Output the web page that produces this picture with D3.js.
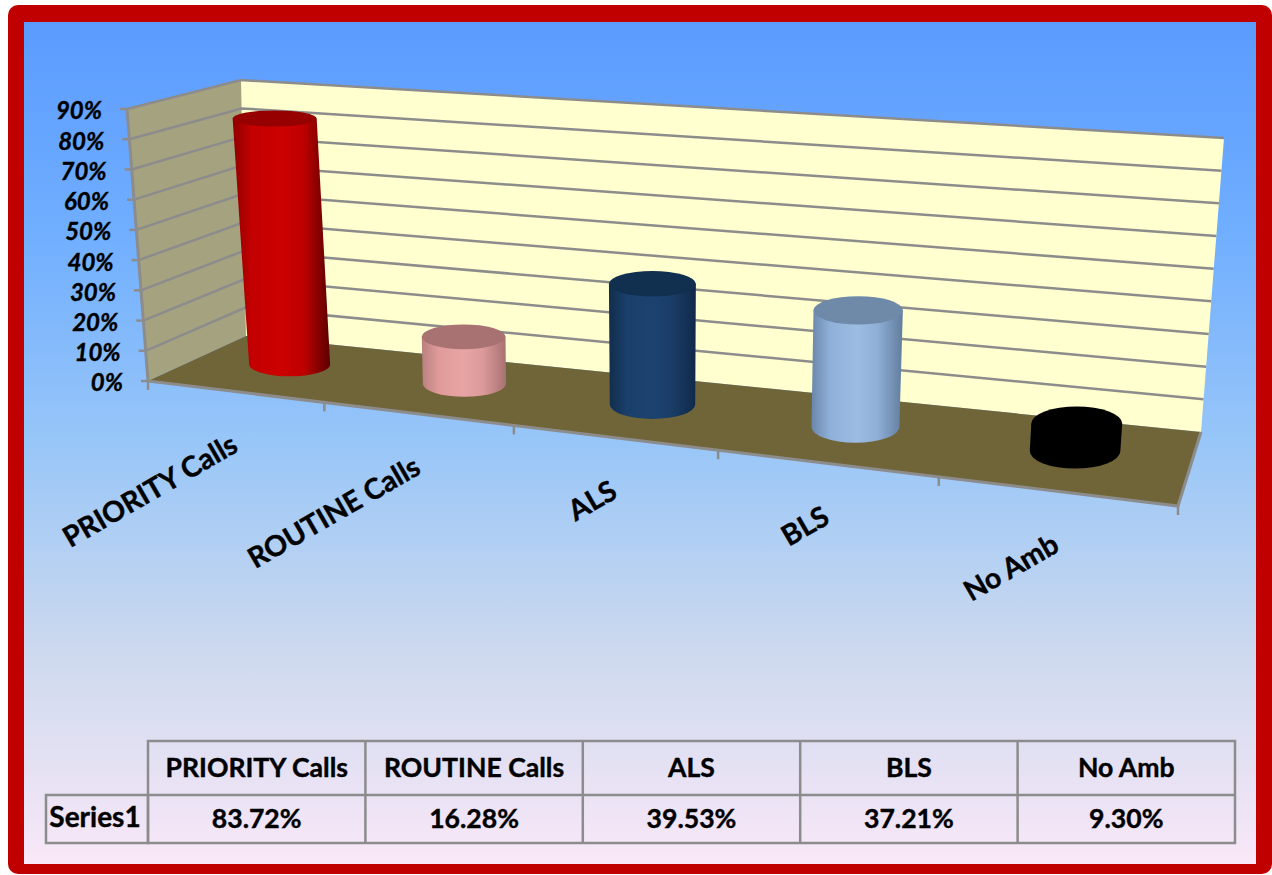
<!DOCTYPE html>
<html>
<head>
<meta charset="utf-8">
<script src="https://cdn.jsdelivr.net/npm/d3@7"></script>
<style>
body { margin: 0; background: #fff; }
text { font-family: Lato, "Open Sans", sans-serif; font-weight: bold; fill: #000; stroke: #000; stroke-width: 0.4; }
</style>
</head>
<body>
<svg width="1272" height="875"></svg>
<script>
const categories = ['PRIORITY Calls', 'ROUTINE Calls', 'ALS', 'BLS', 'No Amb'];
const values = [0.8372, 0.1628, 0.3953, 0.3721, 0.093];
const valueLabels = ['83.72%', '16.28%', '39.53%', '37.21%', '9.30%'];
const yTicks = [0, 0.1, 0.2, 0.3, 0.4, 0.5, 0.6, 0.7, 0.8, 0.9];
const seriesName = 'Series1';
const barColors = [
    {stops: ['#8f0000', '#c40000', '#cc0000', '#c00000', '#5c0000'], top: '#960000'},
    {stops: ['#b98080', '#e09a9a', '#e8a4a4', '#dc9a9a', '#a87272'], top: '#a97272'},
    {stops: ['#122d4d', '#1a3f69', '#1c4270', '#1a3d66', '#10294a'], top: '#112f4f'},
    {stops: ['#6a87aa', '#8fb0d8', '#9cbce2', '#8fafd6', '#617d9e'], top: '#6f8aa9'},
    {stops: ['#000', '#000', '#000', '#000', '#000'], top: '#000'}
];

const svg = d3.select('svg');
const defs = svg.append('defs');

// chart box corners, the 3d frame of the plot
const frontBottom = [[148, 381], [1178, 506]];
const backBottom = [[246, 336], [1201, 432]];
const frontTop = [[127, 109], [1196, 194]];
const backTop = [[241, 80], [1224, 138]];

const xScale = d3.scaleBand().domain(categories).range([0, 1]);
const yScale = d3.scaleLinear().domain([0, 0.9]).range([0, 1]);

const lerp = (a, b, t) => [a[0] + (b[0] - a[0]) * t, a[1] + (b[1] - a[1]) * t];
const persp = u => u / (u + (1 - u) * 1.21);

// u along categories, v front to back, h up the value axis (all 0..1)
const project = (u, v, h) => {
    const p = persp(u);
    const bottom = lerp(lerp(frontBottom[0], frontBottom[1], p), lerp(backBottom[0], backBottom[1], p), v);
    const top = lerp(lerp(frontTop[0], frontTop[1], p), lerp(backTop[0], backTop[1], p), v);
    return lerp(bottom, top, h);
};

const line = d3.line();

// background
const bg = defs.append('linearGradient').attr('id', 'bg')
    .attr('x1', 0).attr('y1', 0).attr('x2', 0).attr('y2', 1);
[[0, '#5b9bff'], [0.25, '#70aeff'], [0.5, '#98c6f8'], [0.75, '#cdd9ee'], [1, '#f9e8f8']].forEach(s => {
    bg.append('stop').attr('offset', s[0]).attr('stop-color', s[1]);
});
svg.append('rect').attr('x', 8).attr('y', 5).attr('width', 1264).attr('height', 869)
    .attr('rx', 10).attr('fill', '#c00000');
svg.append('rect').attr('x', 24).attr('y', 22).attr('width', 1232).attr('height', 842)
    .attr('fill', 'url(#bg)');

// walls and floor
const poly = (pts, fill) => svg.append('path').attr('d', line(pts) + 'Z').attr('fill', fill);
poly([project(0, 0, 0), project(0, 1, 0), project(0, 1, 1), project(0, 0, 1)], '#a5a27f');
poly([project(0, 1, 0), project(1, 1, 0), project(1, 1, 1), project(0, 1, 1)], '#ffffcf');
poly([project(0, 0, 0), project(1, 0, 0), project(1, 1, 0), project(0, 1, 0)], '#706539');

const gray = '#8c8c8c';
const stroke = (pts, w) => svg.append('path').attr('d', line(pts))
    .attr('fill', 'none').attr('stroke', gray).attr('stroke-width', w || 2.5);

// gridlines, value ticks and labels
yTicks.forEach(t => {
    const h = yScale(t);
    if (t > 0) {
        stroke([project(0, 0, h), project(0, 1, h), project(1, 1, h)]);
    }
    const a = project(0, 0, h);
    stroke([a, [a[0] - 7, a[1]]]);
    svg.append('text')
        .attr('x', a[0] - 25).attr('y', a[1] + 2)
        .attr('dy', '0.35em')
        .attr('text-anchor', 'end')
        .attr('font-size', 24)
        .attr('font-style', 'italic')
        .text(d3.format('.0%')(t));
});

// frame edges
stroke([project(0, 0, 0), project(0, 0, 1)], 3);
stroke([project(0, 0, 0), project(1, 0, 0), project(1, 1, 0)], 3);

// category ticks
d3.range(categories.length + 1).forEach(i => {
    const a = project(i / categories.length, 0, 0);
    stroke([a, [a[0], a[1] + 9]]);
});

// cylinders
categories.forEach((c, i) => {
    const uc = xScale(c) + xScale.bandwidth() / 2;
    const h = yScale(values[i]);
    const p = persp(uc);
    // x is taken further back than y, the picture's cylinders sit a little off the box
    const base = [project(uc, 0.6, 0)[0], project(uc, 0.57, 0)[1]];
    const head = [project(uc, 0.6, h)[0] - 8 * h * h, project(uc, 0.52, h)[1]];
    const ryAt = hh => Math.abs(project(uc, 0.85, hh)[1] - project(uc, 0.35, hh)[1]) / 2;
    const rxBase = 40 + 6 * p;
    const rxHead = rxBase * (1 + 0.04 * h);
    const ryBase = ryAt(0);
    const ryHead = ryAt(h);

    const grad = defs.append('linearGradient').attr('id', 'bar' + i);
    [0, 0.2, 0.5, 0.72, 1].forEach((o, j) => {
        grad.append('stop').attr('offset', o).attr('stop-color', barColors[i].stops[j]);
    });

    svg.append('path')
        .attr('d', `M${head[0] - rxHead},${head[1]}` +
            `L${base[0] - rxBase},${base[1]}` +
            `A${rxBase},${ryBase} 0 0 0 ${base[0] + rxBase},${base[1]}` +
            `L${head[0] + rxHead},${head[1]}Z`)
        .attr('fill', `url(#bar${i})`);
    svg.append('ellipse')
        .attr('cx', head[0]).attr('cy', head[1])
        .attr('rx', rxHead).attr('ry', ryHead)
        .attr('fill', barColors[i].top);

    // category label
    const f = project(uc, 0, 0);
    svg.append('text')
        .attr('transform', `translate(${f[0] + 5},${f[1] + 59}) rotate(-30)`)
        .attr('text-anchor', 'end')
        .attr('font-size', 28.5)
        .text(c);
});

// data table
const tableX = d3.scaleBand().domain(categories).range([148, 1235]);
const rowY = [741, 795, 843];
const tableG = svg.append('g').attr('fill', 'none').attr('stroke', gray).attr('stroke-width', 2.5);
tableG.append('rect').attr('x', 148).attr('y', rowY[0]).attr('width', 1087).attr('height', rowY[2] - rowY[0]);
tableG.append('rect').attr('x', 46).attr('y', rowY[1]).attr('width', 102).attr('height', rowY[2] - rowY[1]);
tableG.append('line').attr('x1', 148).attr('x2', 1235).attr('y1', rowY[1]).attr('y2', rowY[1]);
categories.slice(1).forEach(c => {
    tableG.append('line').attr('x1', tableX(c)).attr('x2', tableX(c)).attr('y1', rowY[0]).attr('y2', rowY[2]);
});
categories.forEach((c, i) => {
    const cx = tableX(c) + tableX.bandwidth() / 2;
    svg.append('text').attr('x', cx).attr('y', 777).attr('text-anchor', 'middle').attr('font-size', 26.6).text(c);
    svg.append('text').attr('x', cx).attr('y', 828).attr('text-anchor', 'middle').attr('font-size', 26.6).text(valueLabels[i]);
});
svg.append('text').attr('x', 95).attr('y', 827).attr('text-anchor', 'middle').attr('font-size', 28).text(seriesName);
</script>
</body>
</html>
